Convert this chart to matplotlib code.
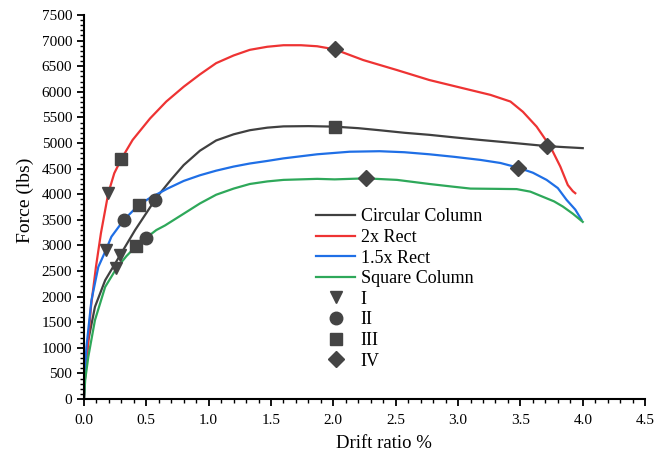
import matplotlib.pyplot as plt
from matplotlib.ticker import MultipleLocator

plt.rcParams["font.family"] = ["Liberation Serif", "DejaVu Serif"]

# * Data
circ_x = [0.0, 0.01, 0.035, 0.088, 0.17, 0.29, 0.41, 0.57, 0.61, 0.70, 0.80, 0.93, 1.06, 1.20, 1.33, 1.47, 1.60, 1.80, 2.01, 2.20, 2.37, 2.57, 2.77, 2.97, 3.18, 3.45, 3.71, 3.85, 4.0]
circ_y = [0, 500, 1150, 1800, 2320, 2810, 3300, 3890, 4020, 4290, 4570, 4850, 5050, 5170, 5250, 5300, 5325, 5330, 5320, 5290, 5250, 5200, 5160, 5110, 5060, 5000, 4940, 4920, 4900]

rect2_x = [0.0, 0.008, 0.03, 0.056, 0.096, 0.136, 0.195, 0.243, 0.30, 0.39, 0.53, 0.66, 0.80, 0.93, 1.06, 1.20, 1.33, 1.47, 1.60, 1.74, 1.87, 2.01, 2.24, 2.51, 2.77, 3.04, 3.26, 3.42, 3.52, 3.63, 3.74, 3.82, 3.88, 3.92, 3.94]
rect2_y = [0, 400, 1000, 1800, 2580, 3240, 4020, 4410, 4690, 5060, 5480, 5810, 6100, 6340, 6560, 6710, 6820, 6880, 6910, 6910, 6890, 6830, 6620, 6425, 6230, 6070, 5940, 5810, 5610, 5320, 4930, 4540, 4180, 4060, 4020]

rect15_x = [0.0, 0.006, 0.02, 0.06, 0.115, 0.176, 0.22, 0.32, 0.44, 0.53, 0.57, 0.67, 0.80, 0.93, 1.06, 1.20, 1.33, 1.47, 1.60, 1.87, 2.13, 2.37, 2.57, 2.77, 2.97, 3.18, 3.34, 3.48, 3.60, 3.71, 3.80, 3.87, 3.94, 3.99]
rect15_y = [0, 500, 1020, 1930, 2580, 2910, 3170, 3500, 3790, 3930, 3980, 4110, 4260, 4370, 4460, 4540, 4600, 4650, 4700, 4780, 4830, 4840, 4820, 4780, 4730, 4670, 4610, 4520, 4420, 4280, 4120, 3890, 3700, 3500]

sq_x = [0.0, 0.01, 0.035, 0.088, 0.17, 0.26, 0.34, 0.42, 0.50, 0.58, 0.65, 0.80, 0.93, 1.06, 1.20, 1.33, 1.47, 1.60, 1.87, 2.01, 2.26, 2.51, 2.77, 2.95, 3.10, 3.30, 3.47, 3.58, 3.68, 3.77, 3.84, 3.92, 4.0]
sq_y = [0, 380, 830, 1540, 2190, 2550, 2790, 2990, 3150, 3300, 3390, 3620, 3820, 3990, 4110, 4200, 4250, 4280, 4300, 4290, 4310, 4280, 4200, 4150, 4110, 4105, 4100, 4050, 3950, 3860, 3760, 3620, 3460]

# performance levels I - IV (x, y)
lvl1_x = [0.195, 0.29, 0.176, 0.26]
lvl1_y = [4020, 2810, 2910, 2550]
lvl2_x = [0.57, 0.32, 0.50]
lvl2_y = [3890, 3500, 3150]
lvl3_x = [0.30, 2.01, 0.44, 0.42]
lvl3_y = [4690, 5320, 3790, 2990]
lvl4_x = [2.01, 3.71, 3.48, 2.26]
lvl4_y = [6830, 4940, 4520, 4310]

mk_color = "#444444"

fig = plt.figure(figsize=(6.54, 4.55), dpi=100)
ax = fig.add_axes([0.1284, 0.123, 0.858, 0.844])

ax.plot(circ_x, circ_y, color="#404040", lw=1.6, label="Circular Column")
ax.plot(rect2_x, rect2_y, color="#ee3333", lw=1.6, label="2x Rect")
ax.plot(rect15_x, rect15_y, color="#1f6fe6", lw=1.6, label="1.5x Rect")
ax.plot(sq_x, sq_y, color="#2ea85a", lw=1.6, label="Square Column")

ax.plot(lvl1_x, lvl1_y, "v", color=mk_color, ms=9, ls="none", label="I")
ax.plot(lvl2_x, lvl2_y, "o", color=mk_color, ms=9, ls="none", label="II")
ax.plot(lvl3_x, lvl3_y, "s", color=mk_color, ms=8, ls="none", label="III")
ax.plot(lvl4_x, lvl4_y, "D", color=mk_color, ms=8, ls="none", label="IV")

ax.set_xlim(0, 4.5)
ax.set_ylim(0, 7500)
ax.xaxis.set_major_locator(MultipleLocator(0.5))
ax.xaxis.set_minor_locator(MultipleLocator(0.1))
ax.yaxis.set_major_locator(MultipleLocator(500))
ax.yaxis.set_minor_locator(MultipleLocator(100))
ax.xaxis.set_major_formatter(lambda v, p: f"{v:.1f}")

ax.spines["top"].set_visible(False)
ax.spines["right"].set_visible(False)
for s in ("left", "bottom"):
    ax.spines[s].set_linewidth(1.5)
ax.tick_params(which="major", direction="out", length=5, width=1.3, labelsize=11)
ax.tick_params(axis="x", which="major", pad=6)
ax.tick_params(which="minor", direction="out", length=3, width=1.0)

ax.set_xlabel("Drift ratio %", fontsize=13.5)
ax.set_ylabel("Force (lbs)", fontsize=14)
ax.xaxis.set_label_coords(0.535, -0.093)
ax.yaxis.set_label_coords(-0.089, 0.518)

ax.legend(loc="upper left", bbox_to_anchor=(0.397, 0.52), frameon=False, fontsize=13,
          handlelength=2.2, handletextpad=0.28, labelspacing=0.2, borderpad=0)

fig.savefig("out.png", dpi=100)
